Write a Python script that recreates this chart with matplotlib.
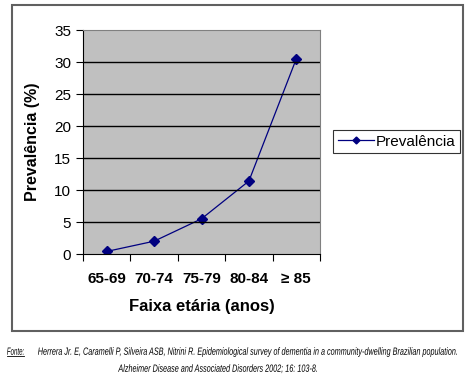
import matplotlib.pyplot as plt
from matplotlib.patches import Rectangle, PathPatch
from matplotlib.textpath import TextPath
from matplotlib.font_manager import FontProperties
from matplotlib.transforms import Affine2D

faixas = ['65-69', '70-74', '75-79', '80-84', '\u2265 85']
prevalencia = [0.4, 2.0, 5.5, 11.4, 30.5]
yticks = [0, 5, 10, 15, 20, 25, 30, 35]

fonte = 'Fonte:'
ref1 = 'Herrera Jr. E, Caramelli P, Silveira ASB, Nitrini R. Epidemiological survey of dementia in a community-dwelling Brazilian population.'
ref2 = 'Alzheimer Disease and Associated Disorders 2002; 16: 103-8.'

W, H = 475, 390
fig = plt.figure(figsize=(W / 100, H / 100), dpi=100)
plt.rcParams['font.family'] = ['Liberation Sans', 'DejaVu Sans']

# outer chart border
fig.patches.append(Rectangle((12 / W, 1 - 331 / H), 451 / W, 326 / H,
                             transform=fig.transFigure, fill=False,
                             edgecolor='#606060', linewidth=1.5))

ax = fig.add_axes([83 / W, 1 - 254 / H, 237 / W, 224 / H])
ax.set_facecolor('#c0c0c0')
x = range(len(faixas))
ax.plot(x, prevalencia, color='#000080', linewidth=0.9, marker='D',
        markersize=5, label='Prevalência')
ax.set_xlim(-0.5, len(faixas) - 0.5)
ax.set_ylim(0, 35)
ax.set_yticks(yticks)
for v in yticks[1:-1]:
    ax.axhline(v, color='black', linewidth=1)
ax.set_xticks([i - 0.5 for i in range(len(faixas) + 1)], minor=False)
ax.set_xticklabels([])
ax.set_xticks(list(x), minor=True)
ax.set_xticklabels(faixas, minor=True, fontsize=11, fontweight='bold')
ax.tick_params(axis='x', which='minor', length=0, pad=13)
ax.tick_params(axis='x', which='major', length=5, direction='out')
ax.tick_params(axis='y', labelsize=11, length=5)
for s in ['top', 'right']:
    ax.spines[s].set_color('#808080')
for s in ['left', 'bottom']:
    ax.spines[s].set_color('black')
ax.set_xlabel('Faixa etária (anos)', fontsize=12, fontweight='bold', labelpad=9)
ax.set_ylabel('Prevalência (%)', fontsize=11.5, fontweight='bold', labelpad=10)

leg = ax.legend(loc='center left', bbox_to_anchor=(333 / W, 1 - 141.5 / H),
                bbox_transform=fig.transFigure, fontsize=11, frameon=True,
                fancybox=False, edgecolor='black', borderpad=0.3,
                handlelength=2.4, handletextpad=0.1, borderaxespad=0,
                markerscale=0.7)
leg.get_frame().set_linewidth(0.8)

# footer in a narrow italic face: draw text as paths squeezed sideways
fp = FontProperties(family='Liberation Sans', style='italic')

def narrow_text(s, x0, x1, yc, size=10.5):
    tp = TextPath((0, 0), s, size=size, prop=fp)
    ext = tp.get_extents()
    sx = (x1 - x0) / ext.width
    tr = Affine2D().translate(-ext.x0, 0).scale(sx, 1) \
        .translate(x0, H - yc - size * 0.36)
    fig.patches.append(PathPatch(tp, transform=tr, facecolor='black',
                                 edgecolor='none'))

narrow_text(fonte, 7, 24, 351)
fig.add_artist(plt.Line2D([7 / W, 24 / W], [1 - 356 / H, 1 - 356 / H],
                          color='black', linewidth=0.6))
narrow_text(ref1, 38, 457, 351)
narrow_text(ref2, 118, 317, 368)

fig.savefig('out.png', dpi=100)
